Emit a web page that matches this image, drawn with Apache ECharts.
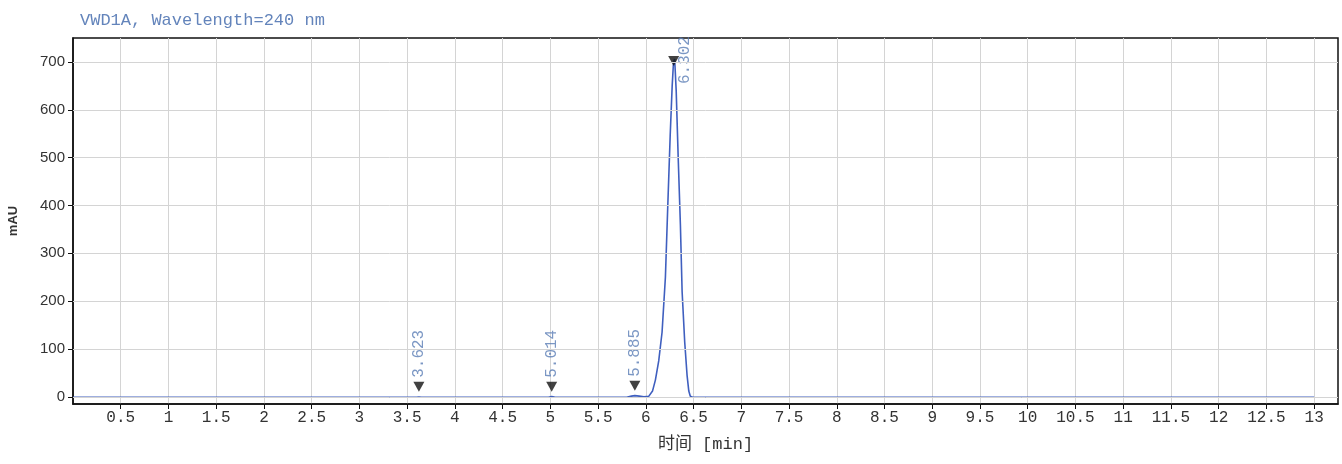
<!DOCTYPE html>
<html>
<head>
<meta charset="utf-8">
<script src="https://cdn.jsdelivr.net/npm/echarts@6/dist/echarts.min.js"></script>
<style>
html,body{margin:0;padding:0;background:#fff;}
#chart{width:1342px;height:464px;}
</style>
</head>
<body>
<div id="chart"></div>
<script>
// Chromatogram signal (time in min, absorbance in mAU)
const timeMin = [0, 1.0, 2.0, 3.0, 3.6, 3.623, 3.65, 4.5, 4.98, 5.014, 5.05, 5.8, 5.85, 5.885, 5.93, 5.98, 6.03, 6.07, 6.10, 6.135, 6.17, 6.205, 6.23, 6.255, 6.276, 6.29, 6.302, 6.318, 6.339, 6.362, 6.38, 6.407, 6.432, 6.45, 6.466, 6.49, 7.0, 9.0, 11.0, 13.0];
const signalMAU = [-1, -1, -1, -1, -1, -0.5, -1, -1, -1, 0.5, -1, -1, 1.5, 2.5, 1.5, 0, 1, 12, 35, 75, 135, 250, 400, 545, 650, 700, 706, 640, 500, 360, 220, 115, 45, 12, 1, -1, -1, -1, -1, -1];

// Integrated peaks
const peakTimes = [3.623, 5.014, 5.885, 6.302];
const peakLabels = ['3.623', '5.014', '5.885', '6.302'];
const peakHeights = [0, 0, 2, 706];

// Axis ticks
const xTicks = [0.5,1,1.5,2,2.5,3,3.5,4,4.5,5,5.5,6,6.5,7,7.5,8,8.5,9,9.5,10,10.5,11,11.5,12,12.5,13];
const yTicks = [0,100,200,300,400,500,600,700];

const titleText = 'VWD1A, Wavelength=240 nm';
const xName = '时间 [min]';
const yName = 'mAU';

const chart = echarts.init(document.getElementById('chart'), null, {renderer: 'canvas'});

const lineData = timeMin.map((t, i) => [t, signalMAU[i]]);
const markerData = peakTimes.map((t, i) => {
  const big = i === peakTimes.length - 1;
  return {
    value: [t, peakHeights[i]],
    symbolOffset: big ? [-1, 2] : [0, -10],
    label: big ? {
      position: [17, 28]
    } : {
      position: 'top',
      distance: 4
    },
    name: peakLabels[i]
  };
});

chart.setOption({
  animation: false,
  backgroundColor: '#ffffff',
  title: {
    text: titleText,
    left: 75,
    top: 7,
    textStyle: {
      fontFamily: 'Liberation Mono',
      fontSize: 17,
      fontWeight: 'normal',
      color: '#6384bb'
    }
  },
  grid: {
    left: 73, top: 38, right: 4, bottom: 60,
    outerBoundsMode: 'none',
    containLabel: false,
    show: true,
    borderColor: '#111',
    borderWidth: 1.5,
    backgroundColor: '#fff'
  },
  xAxis: {
    type: 'value',
    min: 0,
    max: 13.25,
    interval: 0.5,
    name: xName,
    nameLocation: 'middle',
    nameGap: 32,
    nameTextStyle: {
      fontFamily: 'Liberation Mono, Noto Sans CJK SC',
      fontSize: 17,
      color: '#333'
    },
    axisLine: {show: true, onZero: false, lineStyle: {color: '#111', width: 1.5}},
    axisTick: {show: true, length: 5, inside: false, customValues: xTicks, lineStyle: {color: '#111'}},
    axisLabel: {
      customValues: xTicks,
      fontFamily: 'Liberation Mono',
      fontSize: 16,
      color: '#333',
      margin: 6,
      formatter: v => String(v)
    },
    splitLine: {show: true, lineStyle: {color: '#d4d4d4', width: 1}}
  },
  yAxis: {
    type: 'value',
    min: -15,
    max: 750,
    name: yName,
    nameLocation: 'middle',
    nameGap: 53,
    nameRotate: 90,
    nameTextStyle: {
      fontFamily: 'Liberation Sans',
      fontSize: 13,
      fontWeight: 'bold',
      color: '#333'
    },
    axisLine: {show: true, onZero: false, lineStyle: {color: '#111', width: 1.5}},
    axisTick: {show: true, length: 5, customValues: yTicks, lineStyle: {color: '#111'}},
    axisLabel: {
      customValues: yTicks,
      fontFamily: 'Liberation Sans',
      fontSize: 15,
      color: '#333',
      margin: 8
    },
    splitLine: {show: false}
  },
  series: [
    {
      type: 'line',
      data: yTicks.map(v => [0, v]),
      silent: true,
      showSymbol: false,
      lineStyle: {opacity: 0},
      markLine: {
        silent: true,
        symbol: 'none',
        label: {show: false},
        lineStyle: {color: '#d4d4d4', type: 'solid', width: 1},
        data: yTicks.map(v => ({yAxis: v}))
      },
      z: 1
    },
    {
      type: 'line',
      data: lineData,
      showSymbol: false,
      lineStyle: {color: '#3f5fbf', width: 1.6},
      z: 3
    },
    {
      type: 'scatter',
      data: markerData,
      symbol: 'triangle',
      symbolRotate: 180,
      symbolSize: [11, 10],
      itemStyle: {color: '#111'},
      label: {
        show: true,
        formatter: p => p.name,
        rotate: 90,
        align: 'left',
        verticalAlign: 'middle',
        fontFamily: 'Liberation Mono',
        fontSize: 16,
        color: '#5a7db5'
      },
      z: 4
    }
  ]
});
</script>
</body>
</html>
